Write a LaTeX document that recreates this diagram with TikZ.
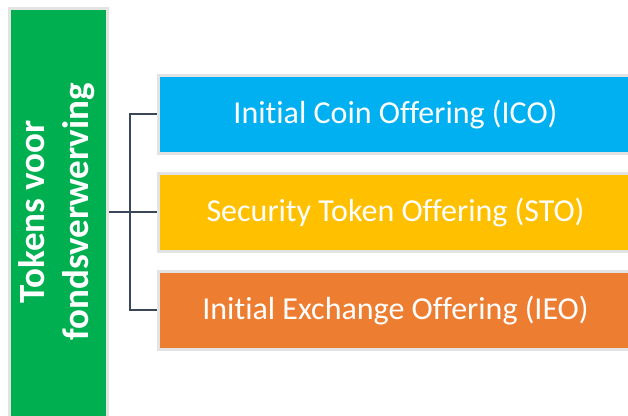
\documentclass[tikz,border=0pt]{standalone}
\usepackage{fontspec}
\setmainfont{Carlito}[Ligatures={NoCommon}]
\definecolor{cgreen}{HTML}{00B050}
\definecolor{cblue}{HTML}{00B0F0}
\definecolor{cyellow}{HTML}{FFC000}
\definecolor{corange}{HTML}{ED7D31}
\definecolor{cframe}{HTML}{E3E3E3}
\definecolor{cline}{HTML}{3B4658}
\tikzset{
  item/.style={draw=cframe, line width=3pt, minimum width=477.5pt, minimum height=78pt, inner sep=0pt},
  itemtext/.style={text=white, inner sep=0pt, anchor=base, font=\fontsize{32}{38}\selectfont},
  conn/.style={draw=cline, line width=2pt},
}
\begin{document}
\begin{tikzpicture}[x=1pt,y=-1pt]
\useasboundingbox (0,0) rectangle (628,415);
\clip (0,0) rectangle (628,415);
\node[draw=cframe, fill=cgreen, line width=3pt, minimum width=98pt, minimum height=420pt, inner sep=0pt, anchor=north west] (main) at (7.5,6.5) {};
\node[rotate=90, text=white, align=center, inner sep=0pt, font=\bfseries\fontsize{37}{44}\selectfont] (title) at (57,212) {Tokens voor\\fondsverwerving};
\node[item, fill=cblue, anchor=west] (ico) at (156.5,114) {};
\node[itemtext] (icot) at (395.5,123) {Initial Coin Offering (ICO)};
\node[item, fill=cyellow, anchor=west] (sto) at (156.5,212) {};
\node[itemtext] (stot) at (395.5,221) {Security Token Offering (STO)};
\node[item, fill=corange, anchor=west] (ieo) at (156.5,310) {};
\node[itemtext] (ieot) at (395.5,319) {Initial Exchange Offering (IEO)};
\coordinate (j) at (130,212);
\draw[conn] (main.east |- j) -- (j) -- (sto.west);
\draw[conn] (ico.west) -| (j) |- (ieo.west);
\end{tikzpicture}
\end{document}
